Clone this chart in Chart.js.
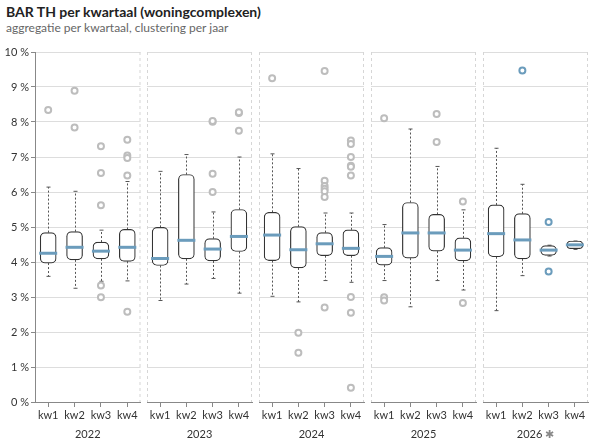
<!DOCTYPE html>
<html>
<head>
<meta charset="utf-8">
<script src="https://cdn.jsdelivr.net/npm/chart.js@4/dist/chart.umd.min.js"></script>
<style>
  body { margin: 0; background: #fff; font-family: Lato, sans-serif; }
  #wrap { position: relative; width: 594px; height: 445px; overflow: hidden; }
  #title { position: absolute; left: 6px; top: 3px; font-size: 14px; font-weight: bold; color: #222; }
  #subtitle { position: absolute; left: 6px; top: 20px; font-size: 12px; color: #666; }
  canvas { position: absolute; top: 40px; }
</style>
</head>
<body>
<div id="wrap">
  <div id="title">BAR TH per kwartaal (woningcomplexen)</div>
  <div id="subtitle">aggregatie per kwartaal, clustering per jaar</div>
  <canvas id="c0" width="142" height="405" style="left:0px"></canvas>
  <canvas id="c1" width="107" height="405" style="left:146px"></canvas>
  <canvas id="c2" width="107" height="405" style="left:258px"></canvas>
  <canvas id="c3" width="107" height="405" style="left:370px"></canvas>
  <canvas id="c4" width="107" height="405" style="left:482px"></canvas>
</div>
<script>
// values in percent, one inner array per year (kw1..kw4)
const years = ['2022', '2023', '2024', '2025', '2026'];
const yearMarks = ['', '', '', '', '\u2731'];
const quarters = ['kw1', 'kw2', 'kw3', 'kw4'];
const yTicks = [0, 1, 2, 3, 4, 5, 6, 7, 8, 9, 10];

const whiskerLow = [
  [3.59, 3.25, 3.45, 3.46],
  [2.90, 3.37, 3.53, 3.11],
  [3.02, 2.86, 3.47, 3.42],
  [3.47, 2.72, 3.47, 3.20],
  [2.61, 3.61, 4.17, 4.36]
];
const boxLow = [
  [3.97, 4.06, 4.09, 4.02],
  [3.90, 4.09, 4.03, 4.30],
  [4.04, 3.83, 4.18, 4.18],
  [3.91, 4.11, 4.31, 4.03],
  [4.15, 4.09, 4.19, 4.38]
];
const medians = [
  [4.25, 4.42, 4.31, 4.42],
  [4.10, 4.62, 4.37, 4.73],
  [4.77, 4.35, 4.52, 4.39],
  [4.16, 4.83, 4.83, 4.34],
  [4.81, 4.63, 4.34, 4.49]
];
const boxHigh = [
  [4.84, 4.87, 4.57, 4.93],
  [4.99, 6.50, 4.67, 5.50],
  [5.42, 5.01, 4.84, 4.92],
  [4.41, 5.70, 5.36, 4.69],
  [5.63, 5.38, 4.47, 4.60]
];
const whiskerHigh = [
  [6.14, 6.02, 4.91, 6.30],
  [6.59, 7.07, 5.43, 7.00],
  [7.09, 6.67, 5.40, 5.40],
  [5.07, 7.80, 6.73, 5.49],
  [7.25, 6.22, 4.48, 4.60]
];
const outliers = [
  [[8.34], [8.89, 7.84], [7.31, 6.54, 5.62, 3.33, 2.99], [7.49, 7.04, 6.97, 6.47, 2.58]],
  [[], [], [8.01, 8.03, 6.52, 6.00], [8.26, 8.28, 7.75]],
  [[9.25], [1.98, 1.41], [9.46, 6.32, 6.17, 6.09, 6.02, 5.86, 2.70], [7.47, 7.37, 7.00, 6.75, 6.72, 6.47, 3.00, 2.55, 0.41]],
  [[8.11, 2.99, 2.90], [], [8.23, 7.43], [5.73, 2.83]],
  [[], [9.47], [5.14, 3.73], []]
];

const boxColor = '#333';
const medianColor = '#6b9cbc';
const outlierGray = '#bdbdbd';

const boxExtras = {
  id: 'boxExtras',
  beforeDatasetsDraw(chart, args, opts) {
    const yi = opts.year;
    const ys = chart.scales.y;
    const ctx = chart.ctx;
    const area = chart.chartArea;
    ctx.save();
    // dashed panel borders
    ctx.strokeStyle = '#d6d6d6';
    ctx.lineWidth = 1;
    ctx.setLineDash([3, 3]);
    ctx.beginPath();
    if (yi > 0) {
      ctx.moveTo(area.left + 0.5, area.top);
      ctx.lineTo(area.left + 0.5, area.bottom);
    }
    ctx.moveTo(area.right - 0.5, area.top);
    ctx.lineTo(area.right - 0.5, area.bottom);
    ctx.stroke();
    // whiskers
    const bars = chart.getDatasetMeta(0).data;
    ctx.strokeStyle = '#555';
    bars.forEach((bar, i) => {
      const x = Math.round(bar.x) + 0.5;
      const lo = ys.getPixelForValue(whiskerLow[yi][i]);
      const hi = ys.getPixelForValue(whiskerHigh[yi][i]);
      const b1 = ys.getPixelForValue(boxLow[yi][i]);
      const b3 = ys.getPixelForValue(boxHigh[yi][i]);
      ctx.setLineDash([2, 2]);
      ctx.beginPath();
      ctx.moveTo(x, b1); ctx.lineTo(x, lo);
      ctx.moveTo(x, b3); ctx.lineTo(x, hi);
      ctx.stroke();
      ctx.setLineDash([]);
      ctx.beginPath();
      ctx.moveTo(x - 2, lo); ctx.lineTo(x + 2, lo);
      ctx.moveTo(x - 2, hi); ctx.lineTo(x + 2, hi);
      ctx.stroke();
    });
    ctx.restore();
  },
  afterDatasetDraw(chart, args, opts) {
    if (args.index !== 0) return;
    const yi = opts.year;
    const ys = chart.scales.y;
    const ctx = chart.ctx;
    ctx.save();
    ctx.strokeStyle = medianColor;
    ctx.lineWidth = 3;
    chart.getDatasetMeta(0).data.forEach((bar, i) => {
      const y = ys.getPixelForValue(medians[yi][i]);
      const half = bar.width / 2 + 1;
      ctx.beginPath();
      ctx.moveTo(bar.x - half, y);
      ctx.lineTo(bar.x + half, y);
      ctx.stroke();
    });
    ctx.restore();
  },
  afterDraw(chart, args, opts) {
    // year label under the panel, with optional grey marker
    const yi = opts.year;
    const ctx = chart.ctx;
    const area = chart.chartArea;
    const text = years[yi];
    const mark = yearMarks[yi];
    ctx.save();
    ctx.font = '11px Lato';
    ctx.textBaseline = 'middle';
    const w1 = ctx.measureText(text).width;
    const w2 = mark ? ctx.measureText(' ' + mark).width : 0;
    let x = (area.left + area.right) / 2 - (w1 + w2) / 2;
    const y = chart.height - 10.5;
    ctx.fillStyle = '#333';
    ctx.fillText(text, x, y);
    if (mark) {
      ctx.fillStyle = '#888';
      ctx.fillText(' ' + mark, x + w1, y);
    }
    ctx.restore();
  }
};

function makeChart(yi) {
  const first = yi === 0;
  const points = [];
  outliers[yi].forEach((vals, qi) => vals.forEach(v => points.push({ x: quarters[qi], y: v })));
  const outColor = yi === 4 ? medianColor : outlierGray;
  new Chart(document.getElementById('c' + yi), {
    type: 'bar',
    data: {
      labels: quarters,
      datasets: [{
        data: quarters.map((q, i) => [boxLow[yi][i], boxHigh[yi][i]]),
        backgroundColor: '#fff',
        borderColor: boxColor,
        borderWidth: 1.2,
        borderRadius: 5,
        borderSkipped: false,
        barThickness: 16,
        grouped: false,
        order: 2
      }, {
        type: 'line',
        data: points,
        showLine: false,
        pointRadius: 3,
        pointBorderWidth: 2,
        pointBorderColor: outColor,
        pointBackgroundColor: '#fff',
        order: 1
      }]
    },
    options: {
      responsive: false,
      animation: false,
      layout: {
        autoPadding: false,
        padding: { top: 12, left: first ? 0 : 1, right: first ? 1.5 : 1, bottom: 0 }
      },
      plugins: {
        legend: { display: false },
        tooltip: { enabled: false },
        boxExtras: { year: yi }
      },
      scales: {
        x: {
          afterFit: s => { s.height = 43; s.paddingLeft = 0; s.paddingRight = 0; },
          grid: { drawOnChartArea: false, offset: false, tickLength: 5, tickColor: '#888' },
          border: { color: '#888' },
          ticks: {
            color: '#333', font: { family: 'Lato', size: 11 }, padding: 2,
            maxRotation: 0, minRotation: 0, autoSkip: false
          }
        },
        y: {
          min: 0,
          max: 10,
          afterFit: s => { s.width = first ? 35 : 0; s.paddingTop = 0; s.paddingBottom = 0; },
          afterBuildTicks: s => { s.ticks = yTicks.map(v => ({ value: v })); },
          grid: { color: '#ddd', drawTicks: first, tickLength: 4, tickColor: '#888' },
          border: { display: first, color: '#888' },
          ticks: {
            display: first,
            color: '#333',
            padding: 2,
            font: { family: 'Lato', size: 11 },
            callback: v => v + ' %'
          }
        }
      }
    },
    plugins: [boxExtras]
  });
}

years.forEach((y, i) => makeChart(i));
</script>
</body>
</html>
